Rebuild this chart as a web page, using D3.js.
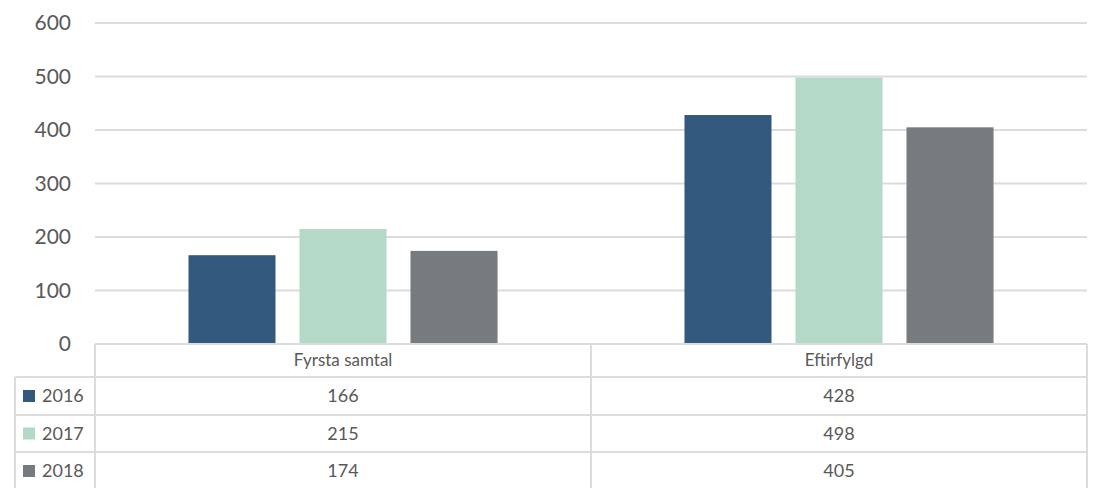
<!DOCTYPE html>
<html><head><meta charset="utf-8">
<script src="https://cdn.jsdelivr.net/npm/d3@7"></script>
<style>
html,body{margin:0;padding:0;background:#fff;}
svg{display:block;font-family:Lato,"Open Sans",sans-serif;}
</style></head>
<body>
<svg id="chart" width="1107" height="488"></svg>
<script>
const categories = ["Fyrsta samtal", "Eftirfylgd"];
const seriesNames = ["2016", "2017", "2018"];
const values2016 = [166, 428];
const values2017 = [215, 498];
const values2018 = [174, 405];
const yTicks = [0, 100, 200, 300, 400, 500, 600];
const colors = ["#335a7e", "#b4d9c7", "#767b7e"];

(function () {
const series = [values2016, values2017, values2018];
const svg = d3.select("#chart");
const pLeft = 95, pRight = 1087, pTop = 23, pBottom = 344;
const grid = "#dcdcdc", textCol = "#595959";

const y = d3.scaleLinear().domain([0, 600]).range([pBottom, pTop]);
const x0 = d3.scaleBand().domain(categories).range([pLeft, pRight]).padding(0);
const x1 = d3.scaleBand().domain(seriesNames).range([0, x0.bandwidth()])
  .paddingInner(0.216).paddingOuter(0.842);

// gridlines
svg.append("g").selectAll("line").data(yTicks.filter(d => d > 0)).join("line")
  .attr("x1", pLeft).attr("x2", pRight)
  .attr("y1", d => y(d)).attr("y2", d => y(d))
  .attr("stroke", grid).attr("stroke-width", 2);

// y axis labels
const yAxis = d3.axisLeft(y).tickValues(yTicks).tickSize(0).tickPadding(0);
const ya = svg.append("g").attr("transform", `translate(71,0)`).call(yAxis);
ya.select(".domain").remove();
ya.selectAll("text").attr("font-size", 21).attr("fill", textCol)
  .attr("font-family", "Lato, 'Open Sans', sans-serif");

// bars
const g = svg.append("g");
categories.forEach((c, ci) => {
  seriesNames.forEach((s, si) => {
    g.append("rect")
      .attr("x", x0(c) + x1(s))
      .attr("y", y(series[si][ci]))
      .attr("width", x1.bandwidth())
      .attr("height", y(0) - y(series[si][ci]))
      .attr("fill", colors[si]);
  });
});

// data table
const headerTop = pBottom, headerBot = 377;
const rowEdges = [377, 415, 452, 490];
const legLeft = 15;
const tg = svg.append("g");
const line = (ax, ay, bx, by) => tg.append("line")
  .attr("x1", ax).attr("y1", ay).attr("x2", bx).attr("y2", by)
  .attr("stroke", grid).attr("stroke-width", 2);

line(pLeft, headerTop, pRight, headerTop);
rowEdges.slice(0, 3).forEach(ry => line(legLeft, ry, pRight, ry));
line(legLeft, rowEdges[0], legLeft, 490);
line(pLeft, headerTop, pLeft, 490);
categories.forEach(c => line(x0(c) + x0.bandwidth(), headerTop, x0(c) + x0.bandwidth(), 490));

// header labels
tg.selectAll("text.hdr").data(categories).join("text")
  .attr("class", "hdr")
  .attr("x", d => x0(d) + x0.bandwidth() / 2)
  .attr("y", (headerTop + headerBot) / 2)
  .attr("dy", "0.35em").attr("text-anchor", "middle")
  .attr("font-size", 17).attr("fill", textCol)
  .text(d => d);

seriesNames.forEach((s, si) => {
  const cy = (rowEdges[si] + rowEdges[si + 1]) / 2;
  tg.append("rect").attr("x", 23).attr("y", cy - 6).attr("width", 12).attr("height", 12)
    .attr("fill", colors[si]);
  tg.append("text").attr("x", 42).attr("y", cy).attr("dy", "0.35em")
    .attr("font-size", 18).attr("fill", textCol).text(s);
  categories.forEach((c, ci) => {
    tg.append("text")
      .attr("x", x0(c) + x0.bandwidth() / 2).attr("y", cy).attr("dy", "0.35em")
      .attr("text-anchor", "middle").attr("font-size", 18).attr("fill", textCol)
      .text(series[si][ci]);
  });
});
})();
</script>
</body></html>
